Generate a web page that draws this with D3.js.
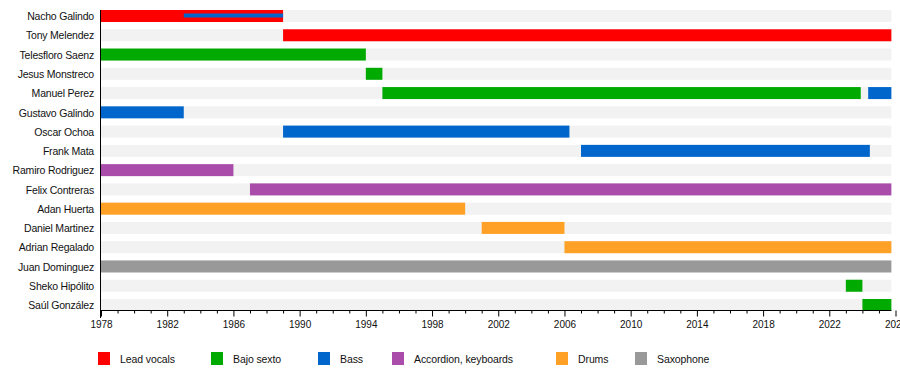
<!DOCTYPE html>
<html>
<head>
<meta charset="utf-8">
<script src="https://cdn.jsdelivr.net/npm/d3@7"></script>
<style>
  html, body { margin: 0; padding: 0; background: #fff; }
  svg { display: block; font-family: "Liberation Sans", Arial, sans-serif; }
</style>
</head>
<body>
<svg id="chart" width="900" height="380"></svg>
<script>
const members = ["Nacho Galindo","Tony Melendez","Telesfloro Saenz","Jesus Monstreco","Manuel Perez","Gustavo Galindo","Oscar Ochoa","Frank Mata","Ramiro Rodriguez","Felix Contreras","Adan Huerta","Daniel Martinez","Adrian Regalado","Juan Dominguez","Sheko Hipólito","Saúl González"];
const roles = ["Lead vocals","Bajo sexto","Bass","Accordion, keyboards","Drums","Saxophone"];
const roleColors = ["#ff0000","#00aa00","#0066cc","#aa4daa","#ffa126","#999999"];
const startYear = 1978;
const endDate = 2025.75;
const majorTicks = [1978,1982,1986,1990,1994,1998,2002,2006,2010,2014,2018,2022,2026];
// [member, role, from, to]
const periods = [
  ["Nacho Galindo","Lead vocals",1978,1989],
  ["Tony Melendez","Lead vocals",1989,endDate],
  ["Telesfloro Saenz","Bajo sexto",1978,1994],
  ["Jesus Monstreco","Bajo sexto",1994,1995],
  ["Manuel Perez","Bajo sexto",1995,2023.9],
  ["Manuel Perez","Bass",2024.35,endDate],
  ["Gustavo Galindo","Bass",1978,1983],
  ["Oscar Ochoa","Bass",1989,2006.3],
  ["Frank Mata","Bass",2007,2024.45],
  ["Ramiro Rodriguez","Accordion, keyboards",1978,1986],
  ["Felix Contreras","Accordion, keyboards",1987,endDate],
  ["Adan Huerta","Drums",1978,2000],
  ["Daniel Martinez","Drums",2001,2006],
  ["Adrian Regalado","Drums",2006,endDate],
  ["Juan Dominguez","Saxophone",1978,endDate],
  ["Sheko Hipólito","Bajo sexto",2023,2024],
  ["Saúl González","Bajo sexto",2024,endDate]
];
// secondary roles (drawn as thin bars)
const secondaryPeriods = [
  ["Nacho Galindo","Bass",1983,1989]
];

const svg = d3.select("#chart");
const x = d3.scaleLinear().domain([1978, 2026]).range([101, 895.5]);
const y = d3.scaleBand().domain(members).range([10, 311]).paddingInner(0.377).paddingOuter(0);
const color = d3.scaleOrdinal().domain(roles).range(roleColors);

// background bars
svg.append("g").selectAll("rect").data(members).join("rect")
  .attr("x", x(startYear)).attr("width", x(endDate) - x(startYear))
  .attr("y", d => y(d)).attr("height", y.bandwidth())
  .attr("fill", "#f2f2f2");

// period bars
svg.append("g").selectAll("rect").data(periods).join("rect")
  .attr("x", d => x(d[2])).attr("width", d => x(d[3]) - x(d[2]))
  .attr("y", d => y(d[0])).attr("height", y.bandwidth())
  .attr("fill", d => color(d[1]));

// secondary bars
svg.append("g").selectAll("rect").data(secondaryPeriods).join("rect")
  .attr("x", d => x(d[2])).attr("width", d => x(d[3]) - x(d[2]))
  .attr("y", d => y(d[0]) + y.bandwidth()/2 - 2.5).attr("height", 4)
  .attr("fill", d => color(d[1]));

// member labels
svg.append("g").selectAll("text").data(members).join("text")
  .attr("x", 94).attr("y", d => y(d) + y.bandwidth()/2 + 0.5)
  .attr("dy", "0.35em").attr("text-anchor", "end")
  .attr("font-size", "10.5px").attr("letter-spacing", "-0.2px").attr("fill", "#111")
  .text(d => d);

// vertical axis line
svg.append("line").attr("x1", 100.5).attr("x2", 100.5).attr("y1", 10).attr("y2", 318)
  .attr("stroke", "#000").attr("stroke-width", 1);

// x axis
const axisY = 310.5;
svg.append("line").attr("x1", 100.5).attr("x2", x(endDate)).attr("y1", axisY).attr("y2", axisY)
  .attr("stroke", "#000");
const minorYears = d3.range(1978, 2027).filter(v => !majorTicks.includes(v));
const ag = svg.append("g").attr("transform", `translate(0,${axisY})`);
const majorAxis = d3.axisBottom(x).tickValues(majorTicks).tickFormat(d3.format("d")).tickSize(6).tickPadding(4);
ag.call(majorAxis);
ag.select(".domain").remove();
ag.selectAll("text").attr("font-size", "10px").attr("font-family", "Liberation Sans, Arial, sans-serif").attr("fill", "#111");
const mg = svg.append("g").attr("transform", `translate(0,${axisY})`);
mg.call(d3.axisBottom(x).tickValues(minorYears).tickFormat("").tickSize(3));
mg.select(".domain").remove();

// legend
const legendX = [98, 211, 318, 392, 556, 635];
const lg = svg.append("g").selectAll("g").data(roles).join("g")
  .attr("transform", (d, i) => `translate(${legendX[i]},352)`);
lg.append("rect").attr("width", 12).attr("height", 13).attr("fill", d => color(d));
lg.append("text").attr("x", 22).attr("y", 7).attr("dy", "0.35em")
  .attr("font-size", "10.5px").attr("letter-spacing", "-0.1px").attr("fill", "#111").text(d => d);
</script>
</body>
</html>
